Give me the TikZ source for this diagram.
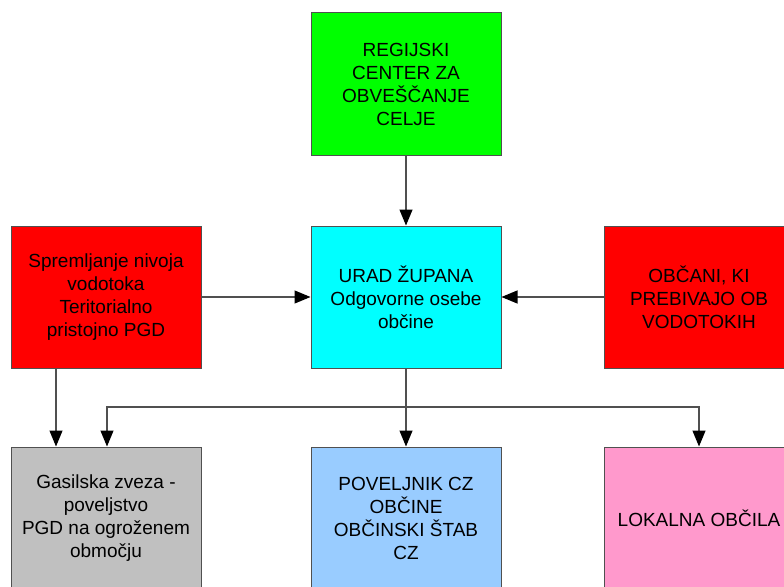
\documentclass[tikz,border=0pt]{standalone}
\usepackage{fontspec}
\setmainfont{Liberation Sans}
\usetikzlibrary{arrows.meta}
\definecolor{lineg}{HTML}{505050}
\definecolor{cgreen}{HTML}{00FF00}
\definecolor{ccyan}{HTML}{00FFFF}
\definecolor{cred}{HTML}{FF0000}
\definecolor{cgray}{HTML}{C0C0C0}
\definecolor{cblue}{HTML}{99CCFF}
\definecolor{cpink}{HTML}{FF99CC}
\tikzset{
  box/.style={draw=lineg, line width=1pt, minimum width=190pt, minimum height=142pt,
    inner sep=0pt, align=center, font=\fontsize{19}{23}\selectfont, text=black},
  conn/.style={draw=lineg, line width=1.2pt},
  arr/.style={conn, -{Triangle[length=16pt,width=13pt,fill=black,color=black]}}
}
\begin{document}
\begin{tikzpicture}[x=1pt,y=-1pt]
\useasboundingbox (0,0) rectangle (784,586);
\clip (0,0) rectangle (784,586);
\fill[white] (0,0) rectangle (784,586);
\node[box, fill=cgreen] (top) at (406,84) {REGIJSKI\\CENTER ZA\\OBVEŠČANJE\\CELJE};
\node[box, fill=ccyan] (mid) at (406,297) {URAD ŽUPANA\\Odgovorne osebe\\občine};
\node[box, fill=cred] (left) at (106,297) {Spremljanje nivoja\\vodotoka\\Teritorialno\\pristojno PGD};
\node[box, fill=cred] (right) at (699,297) {OBČANI, KI\\PREBIVAJO OB\\VODOTOKIH};
\node[box, fill=cgray] (gray) at (106,518) {Gasilska zveza -\\poveljstvo\\PGD na ogroženem\\območju};
\node[box, fill=cblue] (blue) at (406,518) {POVELJNIK CZ\\OBČINE\\OBČINSKI ŠTAB\\CZ};
\node[box, fill=cpink] (pink) at (699,518) {LOKALNA OBČILA};
\coordinate (j) at (406,407);
\draw[arr] (top.south) -- (mid.north);
\draw[arr] (left.east) -- (mid.west);
\draw[arr] (right.west) -- (mid.east);
\draw[arr] ([xshift=-50pt]left.south) -- ([xshift=-50pt]gray.north);
\draw[conn] (mid.south) -- (j);
\draw[arr] (j) -- (blue.north);
\draw[arr] (j) -| ([xshift=1pt]gray.north);
\draw[arr] (j) -| (pink.north);
\end{tikzpicture}
\end{document}
